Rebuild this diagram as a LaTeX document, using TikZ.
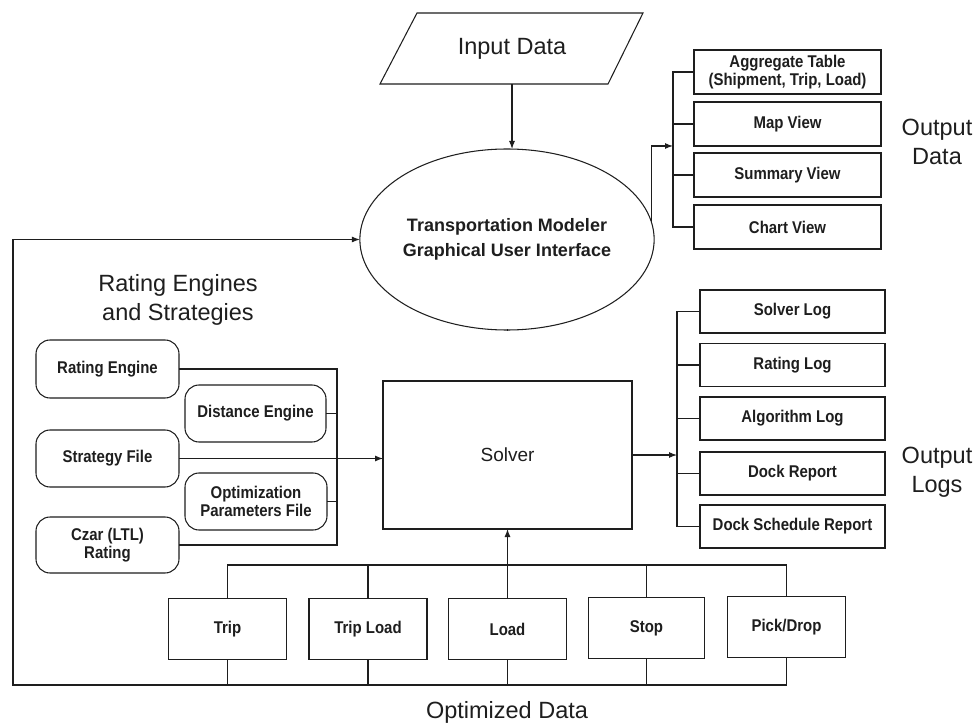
\documentclass[tikz,border=0pt]{standalone}
\usepackage{fontspec}
\setmainfont{Liberation Sans}
\newfontfamily\narrowfont{Liberation Sans}[FakeStretch=0.88]
\usetikzlibrary{shapes.geometric,arrows.meta}
\definecolor{ink}{HTML}{1E1E1E}
\tikzset{
  ln/.style={draw=ink, line width=1.05pt},
  arr/.style={ln, -{Latex[length=8pt,width=6pt]}},
  bigtxt/.style={text=ink, font=\fontsize{23.5}{29}\selectfont, align=center, inner sep=0pt},
  boxtxt/.style={text=ink, font=\narrowfont\bfseries\fontsize{17}{18}\selectfont, align=center, inner sep=0pt, outer sep=0pt},
  outbox/.style={boxtxt, ln, rectangle, minimum width=187pt, minimum height=44pt},
  logbox/.style={boxtxt, ln, rectangle, minimum width=185pt, minimum height=43pt},
  rbox/.style={boxtxt, ln, rectangle, rounded corners=14pt, minimum height=57pt},
  databox/.style={boxtxt, ln, rectangle, minimum width=118pt, minimum height=61pt},
}
\begin{document}
\begin{tikzpicture}[x=1pt,y=-1pt]
\useasboundingbox[fill=white] (0,0) rectangle (977,727);

% Input data parallelogram
\draw[ln] (380,84) -- (417,13) -- (643,13) -- (608,84) -- cycle;
\node[bigtxt, minimum height=71pt] (input) at (512,48.5) {Input Data};

% GUI ellipse
\node[ellipse, ln, inner sep=0pt, outer sep=0pt, minimum width=270pt, minimum height=181pt,
      text=ink, font=\bfseries\fontsize{18}{24.5}\selectfont, align=center] (gui) at (507,239.5)
      {Transportation Modeler\\Graphical User Interface};
\draw[arr] (input.south) -- (input.south |- gui.north);

% Output data boxes
\node[outbox] (agg) at (787.5,72) {Aggregate Table\\(Shipment, Trip, Load)};
\node[outbox] (map) at (787.5,124) {Map View};
\node[outbox] (sum) at (787.5,175) {Summary View};
\node[outbox] (chart) at (787.5,227) {Chart View};
\coordinate (odx) at (673,146);
\draw[ln] (agg.west) -- (agg.west -| odx) -- (chart.west -| odx) -- (chart.west);
\draw[ln] (map.west) -- (map.west -| odx);
\draw[ln] (sum.west) -- (sum.west -| odx);
\draw[arr] (gui.7) |- (odx);
\node[bigtxt] (odlab) at (937,142) {Output\\Data};

% Solver
\node[ln, rectangle, minimum width=249pt, minimum height=148pt, inner sep=0pt, outer sep=0pt,
      text=ink, font=\fontsize{19}{23}\selectfont] (solver) at (507.5,455) {Solver};
\draw[ln] (gui.south) -- (gui.south -| solver.north);

% Output logs
\node[logbox] (slog) at (792.5,311.5) {Solver Log};
\node[logbox] (rlog) at (792.5,365) {Rating Log};
\node[logbox] (alog) at (792.5,418.5) {Algorithm Log};
\node[logbox] (dock) at (792.5,473.5) {Dock Report};
\node[logbox] (dsch) at (792.5,526.5) {Dock Schedule Report};
\coordinate (olx) at (677,455);
\draw[ln] (slog.west) -- (slog.west -| olx) -- (dsch.west -| olx) -- (dsch.west);
\draw[ln] (rlog.west) -- (rlog.west -| olx);
\draw[ln] (alog.west) -- (alog.west -| olx);
\draw[ln] (dock.west) -- (dock.west -| olx);
\draw[arr] (solver.east) -- (olx);
\node[bigtxt] (ollab) at (937,472) {Output\\Logs};

% Rating engines and strategies
\node[bigtxt] (rlab) at (178,300) {Rating Engines\\and Strategies};
\node[rbox, minimum width=143pt, minimum height=58pt] (re) at (107.5,369) {Rating Engine};
\node[rbox, minimum width=141pt] (de) at (255.5,413.5) {Distance Engine};
\node[rbox, minimum width=143pt] (sf) at (107.5,458.5) {Strategy File};
\node[rbox, minimum width=142pt] (op) at (256,501.5) {Optimization\\Parameters File};
\node[rbox, minimum width=143pt, minimum height=56pt] (cz) at (107.5,545) {Czar (LTL)\\Rating};
\coordinate (rbx) at (337,0);
\draw[ln] (re.east) -- (re.east -| rbx) -- (cz.east -| rbx) -- (cz.east);
\draw[ln] (de.east) -- (de.east -| rbx);
\draw[ln] (op.east) -- (op.east -| rbx);
\draw[arr] (sf.east) -- (sf.east -| solver.west);

% Optimized data boxes
\node[databox] (trip) at (227.5,629) {Trip};
\node[databox] (tl) at (368,629) {Trip Load};
\node[databox] (load) at (507.5,629) {Load};
\node[databox, minimum width=116pt] (stop) at (646.5,628) {Stop};
\node[databox] (pd) at (786.5,627) {Pick/Drop};
\coordinate (tb) at (0,565);
\coordinate (bb) at (0,685);
\coordinate (lx) at (13,0);
\draw[ln] (trip.north) -- (trip.north |- tb) -- (pd.north |- tb) -- (pd.north);
\draw[ln] (tl.north) -- (tl.north |- tb);
\draw[ln] (stop.north) -- (stop.north |- tb);
\draw[arr] (load.north) -- (solver.south);
\draw[ln] (trip.south) -- (trip.south |- bb);
\draw[ln] (tl.south) -- (tl.south |- bb);
\draw[ln] (load.south) -- (load.south |- bb);
\draw[ln] (stop.south) -- (stop.south |- bb);
\draw[arr] (pd.south) -- (pd.south |- bb) -- (lx |- bb) -- (lx |- gui.west) -- (gui.west);
\node[bigtxt] (oplab) at (507,712) {Optimized Data};
\end{tikzpicture}
\end{document}
